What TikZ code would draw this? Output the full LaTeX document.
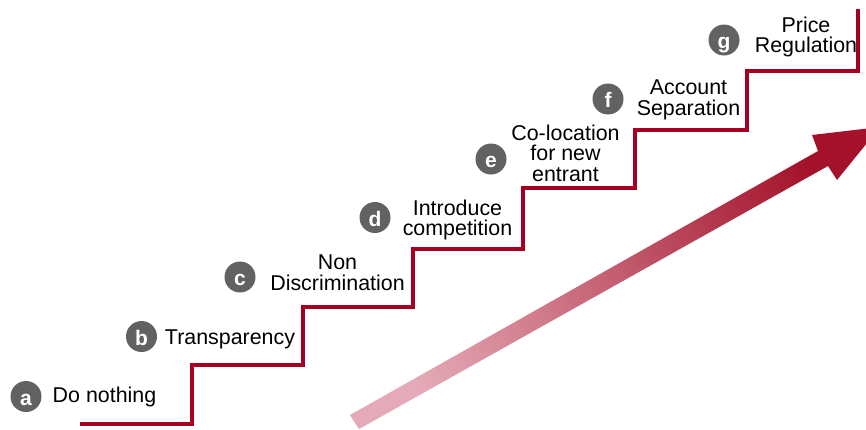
\documentclass[tikz,border=0pt]{standalone}
\usepackage{fontspec}
\setmainfont{Liberation Sans}
\definecolor{stair}{RGB}{165,0,33}
\definecolor{badgegray}{RGB}{98,98,98}
\definecolor{arrowpink}{RGB}{228,170,183}
\definecolor{arrowred}{RGB}{163,18,42}
\begin{document}
\begin{tikzpicture}[x=1pt,y=-1pt,
  stairline/.style={line width=4pt, draw=stair},
  badge/.style={circle, fill=badgegray, minimum size=31pt, inner sep=0pt,
    text=white, font=\fontsize{21}{21}\selectfont\bfseries,
    text height=17pt, text depth=0pt},
  steplabel/.style={inner sep=0pt, align=center,
    font=\fontsize{21.4}{20.6}\selectfont}]
\useasboundingbox (0,0) rectangle (866,429);

% rising arrow with a pink-to-red gradient
\begin{scope}
  \clip (0,0) rectangle (866,429);
  \shade[top color=arrowred, bottom color=arrowpink, shading angle=-60.6]
    (350,415) -- (818,151) -- (812,135) -- (880,127) -- (837,180)
    -- (828,166) -- (359,429) -- cycle;
\end{scope}

% staircase
\draw[stairline] (80,424) -- (192,424) -- (192,365) -- (303,365)
  -- (303,306.5) -- (412.5,306.5) -- (412.5,249) -- (523,249)
  -- (523,188) -- (635,188) -- (635,129.5) -- (747,129.5)
  -- (747,71) -- (858,71) -- (858,9);

% step badges and labels
\node[badge] (ba) at (26,396.5) {a};
\node[steplabel] (ta) at (104.5,396.5) {Do nothing};

\node[badge] (bb) at (141.5,336.5) {b};
\node[steplabel] (tb) at (230,339.6) {Transparency};

\node[badge] (bc) at (240,277) {c};
\node[steplabel] (tc) at (337.5,273) {Non\\Discrimination};

\node[badge] (bd) at (375,217.5) {d};
\node[steplabel] (td) at (457.5,220) {Introduce\\competition};

\node[badge] (be) at (491,159) {e};
\node[steplabel] (te) at (565.5,153) {Co-location\\for new\\entrant};

\node[badge] (bf) at (608,99) {f};
\node[steplabel] (tf) at (688.5,99.8) {Account\\Separation};

\node[badge] (bg) at (724,40) {g};
\node[steplabel] (tg) at (806,36.9) {Price\\Regulation};
\end{tikzpicture}
\end{document}
